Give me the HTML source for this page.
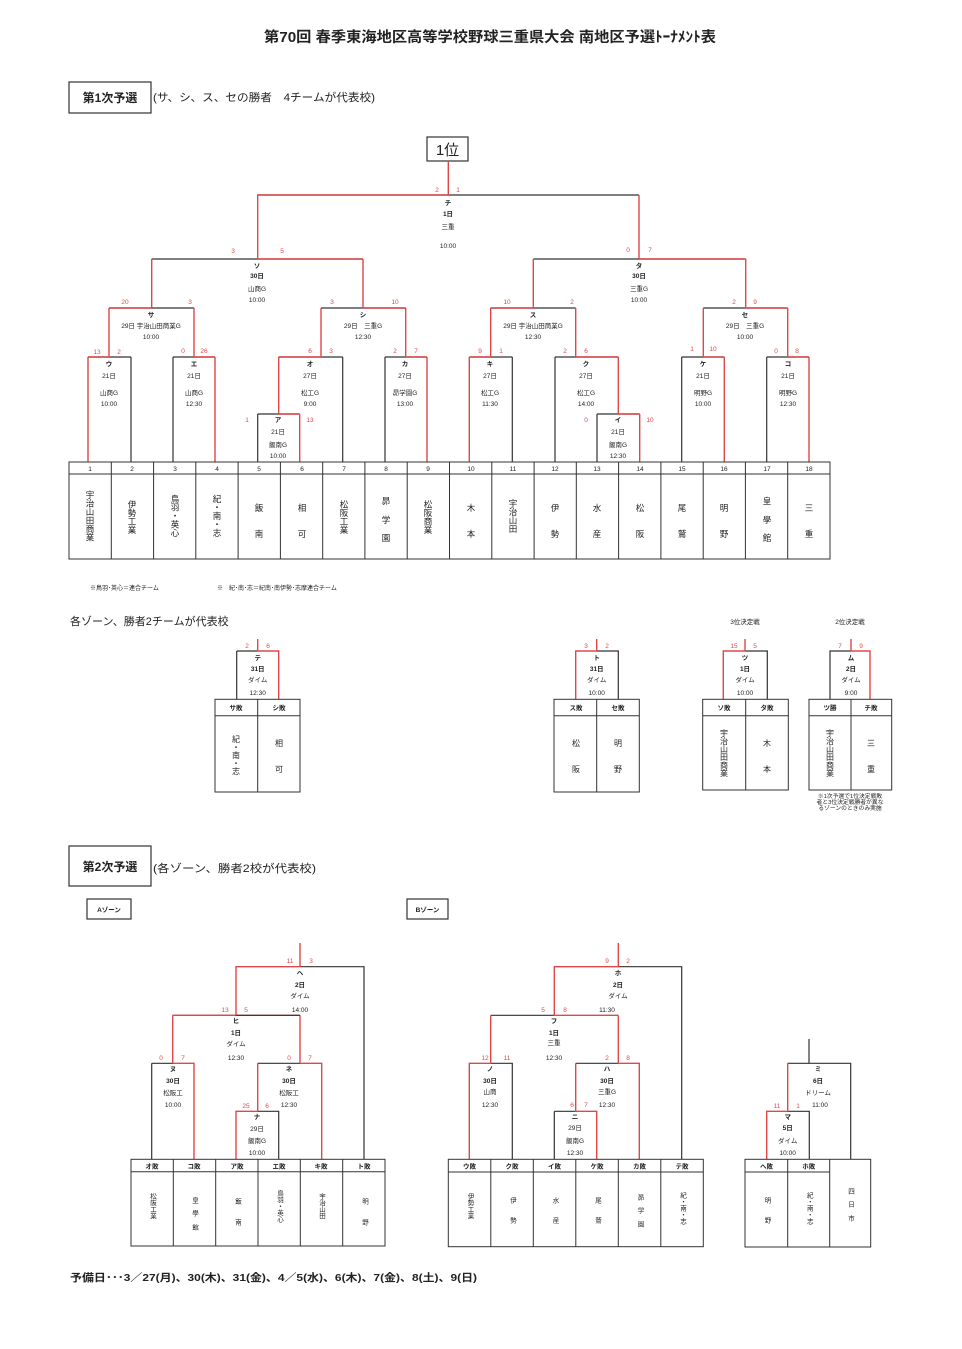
<!DOCTYPE html>
<html><head><meta charset="utf-8">
<style>
html,body{margin:0;padding:0;background:#fff;}
svg{display:block;font-family:"Liberation Sans","Noto Sans CJK JP",sans-serif;}
.k{stroke:#333;stroke-width:1.2;fill:none;}
.r{stroke:#e04848;stroke-width:1.4;fill:none;}
.t{stroke:#333;stroke-width:1;fill:none;}
text{fill:#222;}
.s{font-size:6.5px;text-anchor:middle;}
.sb{font-size:6.5px;text-anchor:middle;font-weight:bold;}
.sc{font-size:6.5px;text-anchor:middle;fill:#e04848;}
.n{font-size:6.5px;text-anchor:middle;}
.v{writing-mode:vertical-rl;text-anchor:middle;font-size:8.5px;}
.v2{writing-mode:vertical-rl;text-anchor:middle;font-size:6.5px;}
</style></head>
<body>
<svg width="962" height="1349" viewBox="0 0 962 1349" xmlns="http://www.w3.org/2000/svg">
<text x="490" y="42" text-anchor="middle" font-size="14.5" font-weight="bold" textLength="452" lengthAdjust="spacingAndGlyphs">第70回 春季東海地区高等学校野球三重県大会 南地区予選ﾄｰﾅﾒﾝﾄ表</text>

<rect x="69" y="82" width="82" height="31" class="k"/>
<text x="110" y="102" text-anchor="middle" font-size="12" font-weight="bold">第1次予選</text>
<text x="153" y="101" font-size="11" textLength="222" lengthAdjust="spacingAndGlyphs">(サ、シ、ス、セの勝者　4チームが代表校)</text>
<rect x="427" y="137" width="41" height="24" class="k"/>
<text x="447.5" y="155" text-anchor="middle" font-size="15">1位</text>

<g class="k">
<path d="M257.7 195H639"/>
<path d="M151.7 259H363M533.3 259H745.7"/>
<path d="M109 308H194M321 308H405.7M490.7 308H575.7M703.3 308H787.7"/>
<path d="M88 357H131M173 357H215M278.7 357H342.7M385 357H427M469.3 357H512.3M555 357H618.3M681.7 357H724.3M766.7 357H809"/>
<path d="M257.7 414H299.7M597 414H639.7"/>
<path d="M131 357V462M173 357V462M342.7 357V462M385 357V462M512.3 357V462M555 357V462M681.7 357V462M766.7 357V462M257.7 414V462M597 414V462"/>
</g>
<g class="r">
<path d="M448.3 161V195H257.7V259M639 195V259"/>
<path d="M151.7 259V308M363 259H257.7M363 259V308M533.3 259V308M745.7 259H639M745.7 259V308"/>
<path d="M109 308H151.7M109 308V357M194 308V357M405.7 308H363M321 308V357M405.7 308V357M490.7 308H533.3M490.7 308V357M575.7 308V357M787.7 308H745.7M703.3 308V357M787.7 308V357"/>
<path d="M88 357H109M88 357V462M215 357H194M215 357V462M278.7 357H321M278.7 357V414M427 357H405.7M427 357V462M469.3 357H490.7M469.3 357V462M618.3 357H575.7M618.3 357V414M724.3 357H703.3M724.3 357V462M809 357H787.7M809 357V462"/>
<path d="M299.7 414H278.7M299.7 414V462M639.7 414H618.3M639.7 414V462"/>
</g>
<g>
<text class="sc" x="437" y="192">2</text><text class="sc" x="458" y="192">1</text>
<text class="sc" x="233" y="253">3</text><text class="sc" x="282" y="253">5</text>
<text class="sc" x="628" y="252">0</text><text class="sc" x="650" y="252">7</text>
<text class="sc" x="125" y="304">20</text><text class="sc" x="190" y="304">3</text>
<text class="sc" x="332" y="304">3</text><text class="sc" x="395" y="304">10</text>
<text class="sc" x="507" y="304">10</text><text class="sc" x="572" y="304">2</text>
<text class="sc" x="734" y="304">2</text><text class="sc" x="755" y="304">9</text>
<text class="sc" x="97" y="354">13</text><text class="sc" x="119" y="354">2</text>
<text class="sc" x="183" y="353">0</text><text class="sc" x="204" y="353">26</text>
<text class="sc" x="310" y="353">6</text><text class="sc" x="331" y="353">3</text>
<text class="sc" x="395" y="353">2</text><text class="sc" x="416" y="353">7</text>
<text class="sc" x="480" y="353">9</text><text class="sc" x="501" y="353">1</text>
<text class="sc" x="565" y="353">2</text><text class="sc" x="586" y="353">6</text>
<text class="sc" x="692" y="351">1</text><text class="sc" x="713" y="351">10</text>
<text class="sc" x="776" y="353">0</text><text class="sc" x="797" y="353">8</text>
<text class="sc" x="247" y="422">1</text><text class="sc" x="310" y="422">13</text>
<text class="sc" x="586" y="422">0</text><text class="sc" x="650" y="422">10</text>
</g>
<g>
<text class="sb" x="448" y="205">チ</text><text class="sb" x="448" y="216">1日</text><text class="s" x="448" y="229">三重</text><text class="s" x="448" y="248">10:00</text>
<text class="sb" x="257" y="268">ソ</text><text class="sb" x="257" y="278">30日</text><text class="s" x="257" y="291">山商G</text><text class="s" x="257" y="302">10:00</text>
<text class="sb" x="639" y="268">タ</text><text class="sb" x="639" y="278">30日</text><text class="s" x="639" y="291">三重G</text><text class="s" x="639" y="302">10:00</text>
<text class="sb" x="151" y="317">サ</text><text class="s" x="151" y="328">29日 宇治山田商業G</text><text class="s" x="151" y="339">10:00</text>
<text class="sb" x="363" y="317">シ</text><text class="s" x="363" y="328">29日　三重G</text><text class="s" x="363" y="339">12:30</text>
<text class="sb" x="533" y="317">ス</text><text class="s" x="533" y="328">29日 宇治山田商業G</text><text class="s" x="533" y="339">12:30</text>
<text class="sb" x="745" y="317">セ</text><text class="s" x="745" y="328">29日　三重G</text><text class="s" x="745" y="339">10:00</text>
<text class="sb" x="109" y="366">ウ</text><text class="s" x="109" y="378">21日</text><text class="s" x="109" y="395">山商G</text><text class="s" x="109" y="406">10:00</text>
<text class="sb" x="194" y="366">エ</text><text class="s" x="194" y="378">21日</text><text class="s" x="194" y="395">山商G</text><text class="s" x="194" y="406">12:30</text>
<text class="sb" x="310" y="366">オ</text><text class="s" x="310" y="378">27日</text><text class="s" x="310" y="395">松工G</text><text class="s" x="310" y="406">9:00</text>
<text class="sb" x="405" y="366">カ</text><text class="s" x="405" y="378">27日</text><text class="s" x="405" y="395">昴学園G</text><text class="s" x="405" y="406">13:00</text>
<text class="sb" x="490" y="366">キ</text><text class="s" x="490" y="378">27日</text><text class="s" x="490" y="395">松工G</text><text class="s" x="490" y="406">11:30</text>
<text class="sb" x="586" y="366">ク</text><text class="s" x="586" y="378">27日</text><text class="s" x="586" y="395">松工G</text><text class="s" x="586" y="406">14:00</text>
<text class="sb" x="703" y="366">ケ</text><text class="s" x="703" y="378">21日</text><text class="s" x="703" y="395">明野G</text><text class="s" x="703" y="406">10:00</text>
<text class="sb" x="788" y="366">コ</text><text class="s" x="788" y="378">21日</text><text class="s" x="788" y="395">明野G</text><text class="s" x="788" y="406">12:30</text>
<text class="sb" x="278" y="422">ア</text><text class="s" x="278" y="434">21日</text><text class="s" x="278" y="447">飯南G</text><text class="s" x="278" y="458">10:00</text>
<text class="sb" x="618" y="422">イ</text><text class="s" x="618" y="434">21日</text><text class="s" x="618" y="447">飯南G</text><text class="s" x="618" y="458">12:30</text>
</g>
<g class="t">
<rect x="69" y="462" width="761" height="97"/>
<path d="M69 474H830"/>
<path d="M111.3 462V559M153.6 462V559M195.8 462V559M238.1 462V559M280.4 462V559M322.7 462V559M364.9 462V559M407.2 462V559M449.5 462V559M491.8 462V559M534.1 462V559M576.3 462V559M618.6 462V559M660.9 462V559M703.2 462V559M745.4 462V559M787.7 462V559"/>
</g>
<g class="n">
<text x="90" y="471">1</text><text x="132" y="471">2</text><text x="175" y="471">3</text><text x="217" y="471">4</text><text x="259" y="471">5</text><text x="302" y="471">6</text><text x="344" y="471">7</text><text x="386" y="471">8</text><text x="428" y="471">9</text><text x="471" y="471">10</text><text x="513" y="471">11</text><text x="555" y="471">12</text><text x="597" y="471">13</text><text x="640" y="471">14</text><text x="682" y="471">15</text><text x="724" y="471">16</text><text x="767" y="471">17</text><text x="809" y="471">18</text>
</g>
<g>
<text class="v" x="90" y="516">宇治山田商業</text>
<text class="v" x="132" y="517">伊勢工業</text>
<text class="v" x="175" y="516">鳥羽・英心</text>
<text class="v" x="217" y="516">紀・南・志</text>
<text class="v" x="259" y="508">飯</text><text class="v" x="259" y="534">南</text>
<text class="v" x="302" y="508">相</text><text class="v" x="302" y="534">可</text>
<text class="v" x="344" y="517">松阪工業</text>
<text class="v" x="386" y="501">昴</text><text class="v" x="386" y="520">学</text><text class="v" x="386" y="538">園</text>
<text class="v" x="428" y="517">松阪商業</text>
<text class="v" x="471" y="508">木</text><text class="v" x="471" y="534">本</text>
<text class="v" x="513" y="516">宇治山田</text>
<text class="v" x="555" y="508">伊</text><text class="v" x="555" y="534">勢</text>
<text class="v" x="597" y="508">水</text><text class="v" x="597" y="534">産</text>
<text class="v" x="640" y="508">松</text><text class="v" x="640" y="534">阪</text>
<text class="v" x="682" y="508">尾</text><text class="v" x="682" y="534">鷲</text>
<text class="v" x="724" y="508">明</text><text class="v" x="724" y="534">野</text>
<text class="v" x="767" y="501">皇</text><text class="v" x="767" y="520">學</text><text class="v" x="767" y="538">館</text>
<text class="v" x="809" y="508">三</text><text class="v" x="809" y="534">重</text>
</g>
<text x="90" y="590" font-size="6">※鳥羽･英心＝連合チーム</text>
<text x="217" y="590" font-size="6">※　紀･南･志＝紀南･南伊勢･志摩連合チーム</text>
<text x="70" y="625" font-size="11">各ゾーン、勝者2チームが代表校</text>

<path class="k" d="M236.7 651H257.7M236.7 651V699"/>
<path class="r" d="M257.7 639V651H278.7V699"/>
<rect class="t" x="215" y="699.3" width="85" height="92.7"/><path class="t" d="M215 715.7H300M257.7 699.3V792"/>
<text class="sc" x="247" y="648">2</text><text class="sc" x="268" y="648">6</text>
<text class="sb" x="257.7" y="660">テ</text><text class="sb" x="257.7" y="671">31日</text><text class="s" x="257.7" y="682">ダイム</text><text class="s" x="257.7" y="695">12:30</text>
<text class="sb" x="236" y="710">サ敗</text><text class="sb" x="279" y="710">シ敗</text>
<text class="v" x="236" y="755" style="font-size:8px">紀・南・志</text>
<text class="v" x="279" y="743" style="font-size:8px">相</text><text class="v" x="279" y="769" style="font-size:8px">可</text>
<path class="k" d="M596.7 651H618.3V699"/>
<path class="r" d="M596.7 639V651H575.7V699"/>
<rect class="t" x="554" y="699.3" width="85.3" height="92.7"/><path class="t" d="M554 715.7H639.3M596.7 699.3V792"/>
<text class="sc" x="586" y="648">3</text><text class="sc" x="607" y="648">2</text>
<text class="sb" x="596.7" y="660">ト</text><text class="sb" x="596.7" y="671">31日</text><text class="s" x="596.7" y="682">ダイム</text><text class="s" x="596.7" y="695">10:00</text>
<text class="sb" x="576" y="710">ス敗</text><text class="sb" x="618" y="710">セ敗</text>
<text class="v" x="576" y="743" style="font-size:8px">松</text><text class="v" x="576" y="769" style="font-size:8px">阪</text>
<text class="v" x="618" y="743" style="font-size:8px">明</text><text class="v" x="618" y="769" style="font-size:8px">野</text>
<text class="s" x="745" y="624">3位決定戦</text>
<path class="k" d="M745 651H767.3V699"/>
<path class="r" d="M745 639V651H723.3V699"/>
<rect class="t" x="702.7" y="699.3" width="85.6" height="90.7"/><path class="t" d="M702.7 715.7H788.3M745.7 699.3V790"/>
<text class="sc" x="734" y="648">15</text><text class="sc" x="755" y="648">5</text>
<text class="sb" x="745" y="660">ツ</text><text class="sb" x="745" y="671">1日</text><text class="s" x="745" y="682">ダイム</text><text class="s" x="745" y="695">10:00</text>
<text class="sb" x="724" y="710">ソ敗</text><text class="sb" x="767" y="710">タ敗</text>
<text class="v" x="724" y="753" style="font-size:8px">宇治山田商業</text>
<text class="v" x="767" y="743" style="font-size:8px">木</text><text class="v" x="767" y="769" style="font-size:8px">本</text>
<text class="s" x="850" y="624">2位決定戦</text>
<path class="k" d="M851 651H830V699"/>
<path class="r" d="M851 639V651H870V699"/>
<rect class="t" x="809" y="699.3" width="82.7" height="90.7"/><path class="t" d="M809 715.7H891.7M851 699.3V790"/>
<text class="sc" x="840" y="648">7</text><text class="sc" x="861" y="648">9</text>
<text class="sb" x="851" y="660">ム</text><text class="sb" x="851" y="671">2日</text><text class="s" x="851" y="682">ダイム</text><text class="s" x="851" y="695">9:00</text>
<text class="sb" x="830" y="710">ツ勝</text><text class="sb" x="871" y="710">チ敗</text>
<text class="v" x="830" y="753" style="font-size:8px">宇治山田商業</text>
<text class="v" x="871" y="743" style="font-size:8px">三</text><text class="v" x="871" y="769" style="font-size:8px">重</text>
<text class="s" x="850" y="798" style="font-size:5.8px">※1次予選で1位決定戦敗</text>
<text class="s" x="850" y="804" style="font-size:5.8px">者と3位決定戦勝者が異な</text>
<text class="s" x="850" y="810" style="font-size:5.8px">るゾーンのときのみ実施</text>

<rect x="69" y="846" width="82" height="40" class="k"/>
<text x="110" y="871" text-anchor="middle" font-size="12" font-weight="bold">第2次予選</text>
<text x="153" y="872" font-size="11" textLength="163" lengthAdjust="spacingAndGlyphs">(各ゾーン、勝者2校が代表校)</text>
<rect x="87" y="899" width="44" height="20" class="k"/>
<text x="109" y="912" text-anchor="middle" font-size="6.5" font-weight="bold">Aゾーン</text>
<rect x="407" y="899" width="41" height="20" class="k"/>
<text x="427.5" y="912" text-anchor="middle" font-size="6.5" font-weight="bold">Bゾーン</text>

<g class="k">
<path d="M300 966.7H364V1159.3"/>
<path d="M151.7 1063.3H173M151.7 1063.3V1159.3M257.7 1063.3H300"/>
<path d="M257.7 1111.3H278.7V1159.3"/>
</g>
<g class="r">
<path d="M300 943V966.7H236V1015.3M172.7 1015.3V1063.3M300 1015.3H172.7M300 1015.3V1063.3"/>
<path d="M173 1063.3H194V1159.3M300 1063.3H321.7V1159.3M257.7 1063.3V1111.3"/>
<path d="M257.7 1111.3H236V1159.3"/>
</g>
<path class="k" d="M236 1015.3H300"/>
<path class="r" d="M172.7 1015.3H236"/>
<text class="sc" x="290" y="963">11</text><text class="sc" x="311" y="963">3</text>
<text class="sc" x="225" y="1012">13</text><text class="sc" x="246" y="1012">5</text>
<text class="sc" x="161" y="1060">0</text><text class="sc" x="183" y="1060">7</text>
<text class="sc" x="289" y="1060">0</text><text class="sc" x="310" y="1060">7</text>
<text class="sc" x="246" y="1108">25</text><text class="sc" x="267" y="1108">6</text>
<text class="sb" x="300" y="975">ヘ</text><text class="sb" x="300" y="987">2日</text><text class="s" x="300" y="998">ダイム</text><text class="s" x="300" y="1012">14:00</text>
<text class="sb" x="236" y="1023">ヒ</text><text class="sb" x="236" y="1035">1日</text><text class="s" x="236" y="1046">ダイム</text><text class="s" x="236" y="1060">12:30</text>
<text class="sb" x="173" y="1071">ヌ</text><text class="sb" x="173" y="1083">30日</text><text class="s" x="173" y="1095">松阪工</text><text class="s" x="173" y="1107">10:00</text>
<text class="sb" x="289" y="1071">ネ</text><text class="sb" x="289" y="1083">30日</text><text class="s" x="289" y="1095">松阪工</text><text class="s" x="289" y="1107">12:30</text>
<text class="sb" x="257" y="1119">ナ</text><text class="s" x="257" y="1131">29日</text><text class="s" x="257" y="1143">飯南G</text><text class="s" x="257" y="1155">10:00</text>
<g class="t">
<rect x="131" y="1159.3" width="254" height="86.7"/>
<path d="M131 1171.7H385M173.3 1159.3V1246M215.7 1159.3V1246M258 1159.3V1246M300.3 1159.3V1246M342.7 1159.3V1246"/>
</g>
<text class="sb" x="152" y="1168.5">オ敗</text><text class="sb" x="194" y="1168.5">コ敗</text><text class="sb" x="237" y="1168.5">ア敗</text><text class="sb" x="279" y="1168.5">エ敗</text><text class="sb" x="321" y="1168.5">キ敗</text><text class="sb" x="364" y="1168.5">ト敗</text>
<text class="v2" x="152" y="1206">松阪工業</text>
<text class="v2" x="194" y="1200">皇</text><text class="v2" x="194" y="1213">學</text><text class="v2" x="194" y="1227">館</text>
<text class="v2" x="237" y="1201">飯</text><text class="v2" x="237" y="1222">南</text>
<text class="v2" x="279" y="1206">鳥羽・英心</text>
<text class="v2" x="321" y="1206">宇治山田</text>
<text class="v2" x="364" y="1201">明</text><text class="v2" x="364" y="1222">野</text>

<g class="k">
<path d="M618.3 966.7H681.7V1159.3"/>
<path d="M490.7 1015.3H554.3"/>
<path d="M490.7 1063.3H512.3V1159.3M575.7 1063.3H618.3"/>
<path d="M554.3 1111.3V1159.3M554.3 1111.3H575.7"/>
</g>
<g class="r">
<path d="M618.3 943V966.7H554.3V1015.3M618.3 1015.3H554.3M490.7 1015.3V1063.3M618.3 1015.3V1063.3"/>
<path d="M490.7 1063.3H469.3V1159.3M618.3 1063.3H639.3V1159.3M575.7 1063.3V1111.3"/>
<path d="M575.7 1111.3H596.7V1159.3"/>
</g>
<text class="sc" x="607" y="963">9</text><text class="sc" x="628" y="963">2</text>
<text class="sc" x="543" y="1012">5</text><text class="sc" x="565" y="1012">8</text>
<text class="sc" x="485" y="1060">12</text><text class="sc" x="507" y="1060">11</text>
<text class="sc" x="607" y="1060">2</text><text class="sc" x="628" y="1060">8</text>
<text class="sc" x="572" y="1107">6</text><text class="sc" x="586" y="1107">7</text>
<text class="sb" x="618" y="975">ホ</text><text class="sb" x="618" y="987">2日</text><text class="s" x="618" y="998">ダイム</text><text class="s" x="607" y="1012">11:30</text>
<text class="sb" x="554" y="1023">フ</text><text class="sb" x="554" y="1035">1日</text><text class="s" x="554" y="1045">三重</text><text class="s" x="554" y="1060">12:30</text>
<text class="sb" x="490" y="1071">ノ</text><text class="sb" x="490" y="1083">30日</text><text class="s" x="490" y="1094">山商</text><text class="s" x="490" y="1107">12:30</text>
<text class="sb" x="607" y="1071">ハ</text><text class="sb" x="607" y="1083">30日</text><text class="s" x="607" y="1094">三重G</text><text class="s" x="607" y="1107">12:30</text>
<text class="sb" x="575" y="1119">ニ</text><text class="s" x="575" y="1130">29日</text><text class="s" x="575" y="1143">飯南G</text><text class="s" x="575" y="1155">12:30</text>
<g class="t">
<rect x="448.3" y="1159.3" width="255" height="87.4"/>
<path d="M448.3 1172H703.3M490.8 1159.3V1246.7M533.3 1159.3V1246.7M575.8 1159.3V1246.7M618.3 1159.3V1246.7M660.8 1159.3V1246.7"/>
</g>
<text class="sb" x="469.5" y="1168.5">ウ敗</text><text class="sb" x="512" y="1168.5">ク敗</text><text class="sb" x="554.5" y="1168.5">イ敗</text><text class="sb" x="597" y="1168.5">ケ敗</text><text class="sb" x="639.5" y="1168.5">カ敗</text><text class="sb" x="682" y="1168.5">テ敗</text>
<text class="v2" x="469.5" y="1206">伊勢工業</text>
<text class="v2" x="512" y="1200">伊</text><text class="v2" x="512" y="1220">勢</text>
<text class="v2" x="554.5" y="1200">水</text><text class="v2" x="554.5" y="1220">産</text>
<text class="v2" x="597" y="1200">尾</text><text class="v2" x="597" y="1220">鷲</text>
<text class="v2" x="639.5" y="1197">昴</text><text class="v2" x="639.5" y="1210">学</text><text class="v2" x="639.5" y="1224">園</text>
<text class="v2" x="682" y="1208">紀・南・志</text>

<g class="k">
<path d="M809 1039V1063.3M787.7 1063.3H850.7V1159.3M787.7 1111.3H809.3V1159.3"/>
</g>
<path class="r" d="M787.7 1063.3V1111.3H766.7V1159.3"/>
<text class="sc" x="777" y="1108">11</text><text class="sc" x="798" y="1108">1</text>
<text class="sb" x="818" y="1071">ミ</text><text class="sb" x="818" y="1083">6日</text><text class="s" x="818" y="1095">ドリーム</text><text class="s" x="820" y="1107">11:00</text>
<text class="sb" x="787.7" y="1119">マ</text><text class="sb" x="787.7" y="1130">5日</text><text class="s" x="787.7" y="1143">ダイム</text><text class="s" x="787.7" y="1155">10:00</text>
<g class="t">
<rect x="745" y="1159.3" width="125.7" height="87.7"/>
<path d="M745 1172H829.7M787.7 1159.3V1247M829.7 1159.3V1247"/>
</g>
<text class="sb" x="766.5" y="1168.5">ヘ敗</text><text class="sb" x="808.7" y="1168.5">ホ敗</text>
<text class="v2" x="766.5" y="1200">明</text><text class="v2" x="766.5" y="1220">野</text>
<text class="v2" x="808.7" y="1208">紀・南・志</text>
<text class="v2" x="850" y="1191">四</text><text class="v2" x="850" y="1204">日</text><text class="v2" x="850" y="1218">市</text>

<text x="70" y="1281" font-size="10.5" font-weight="bold" textLength="407" lengthAdjust="spacingAndGlyphs">予備日･･･3／27(月)、30(木)、31(金)、4／5(水)、6(木)、7(金)、8(土)、9(日)</text>
</svg>
</body></html>
